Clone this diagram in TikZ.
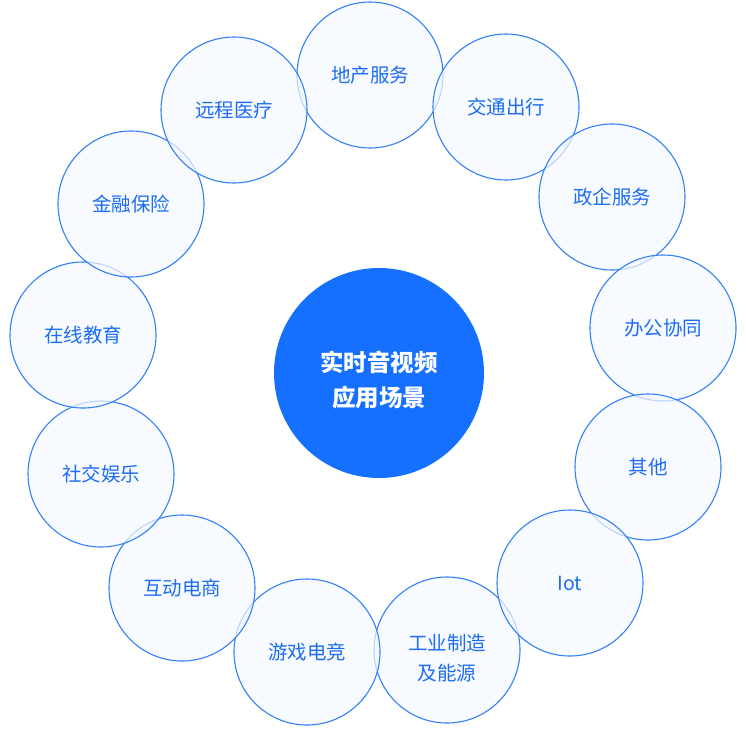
\documentclass[tikz,border=0pt]{standalone}
\usepackage{fontspec}
\setmainfont{Noto Sans CJK SC}
\definecolor{ringblue}{HTML}{3380F7}
\definecolor{textblue}{HTML}{1C6DF2}
\definecolor{coreblue}{HTML}{1570FF}
\definecolor{paleblue}{HTML}{F4F8FF}

\begin{document}
\begin{tikzpicture}[x=1pt, y=-1pt]
  \tikzset{
    scene/.style={
      circle,
      draw=ringblue,
      line width=1.1pt,
      fill=paleblue,
      fill opacity=0.7,
      text opacity=1,
      text=textblue,
      minimum size=146pt,
      inner sep=0pt,
      align=center,
      font=\fontsize{19.5}{30}\selectfont},
    scenetext/.style={
      text=textblue,
      align=center,
      font=\fontsize{19.5}{30}\selectfont},
    core/.style={
      circle,
      fill=coreblue,
      minimum size=210pt,
      inner sep=0pt},
    coretext/.style={
      text=white,
      align=center,
      font=\fontsize{23.5}{35}\selectfont\bfseries}}

  \useasboundingbox (0,0) rectangle (746,742);

  % outer ring
  \node[scene] (estate) at (370,75) {地产服务};
  \node[scene] (traffic) at (506,107) {交通出行};
  \node[scene] (gov) at (612,197) {政企服务};
  \node[scene] (office) at (663,328) {办公协同};
  \node[scene] (other) at (648,467) {其他};
  \node[scene, label={[scenetext, yshift=-8pt]center:工业制造\\及能源}] (industry) at (447,650) {};
  \node[scene] (game) at (307,652) {游戏电竞};
  \node[scene] (shop) at (182,588) {互动电商};
  \node[scene] (social) at (101,474) {社交娱乐};
  \node[scene] (edu) at (83,335) {在线教育};
  \node[scene] (finance) at (131,204) {金融保险};
  \node[scene] (medical) at (234,110) {远程医疗};
  \node[scene] (iot) at (570,583) {Iot};

  % centre
  \node[core, label={[coretext, yshift=-7pt]center:实时音视频\\应用场景}] (rtc) at (379,373) {};

\end{tikzpicture}
\end{document}
